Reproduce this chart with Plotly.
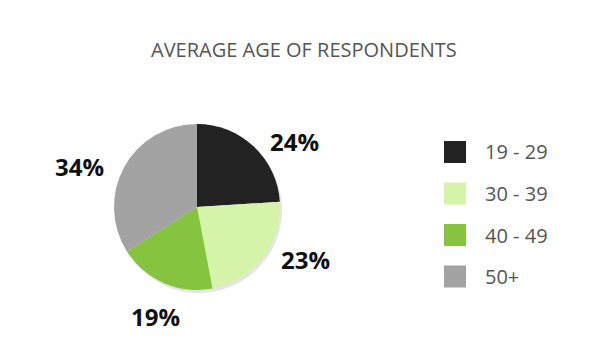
import math
import plotly.graph_objects as go

# ---- data ----
labels = ["19 - 29", "30 - 39", "40 - 49", "50+"]
values = [24, 23, 19, 34]
colors = ["#222222", "#d5f4aa", "#86c440", "#a3a3a3"]
title = "AVERAGE AGE OF RESPONDENTS"

W, H = 604, 364
OFF = 8  # page body margin


def px_x(X):
    return (X - OFF) / W


def px_y(Y):
    return 1 - (Y - OFF) / H


cx, cy, r = 197, 207, 83  # pie center / radius in window pixels

dom_x = [px_x(cx - r), px_x(cx + r)]
dom_y = [px_y(cy + r), px_y(cy - r)]

fig = go.Figure()
# subtle shadow
fig.add_trace(go.Pie(
    values=values, sort=False, direction="clockwise", rotation=0,
    marker=dict(colors=["rgba(0,0,0,0.10)"] * len(values), line=dict(width=0)),
    textinfo="none", hoverinfo="skip", showlegend=False,
    domain=dict(x=[dom_x[0] + 2 / W, dom_x[1] + 2 / W], y=[dom_y[0] - 3 / H, dom_y[1] - 3 / H]),
))
fig.add_trace(go.Pie(
    labels=labels, values=values, sort=False, direction="clockwise", rotation=0,
    marker=dict(colors=colors, line=dict(width=0)),
    textinfo="none", showlegend=False,
    domain=dict(x=dom_x, y=dom_y),
))

annotations = []
total = sum(values)
cum = 0
R = 104
for v in values:
    mid = (cum + v / 2) / total * 2 * math.pi
    cum += v
    s, c = math.sin(mid), math.cos(mid)
    X = cx + R * s
    Y = cy - R * c
    if abs(s) < 0.5:
        xa = "center"
        ya = "top" if c < 0 else "bottom"
        Y -= 4 if c < 0 else -4
    else:
        xa = "left" if s > 0 else "right"
        ya = "middle"
        Y += 10 if c > 0 else -11
    annotations.append(dict(
        x=px_x(X), y=px_y(Y), xref="paper", yref="paper",
        text=f"{round(v / total * 100)}%", showarrow=False,
        xanchor=xa, yanchor=ya,
        font=dict(family="Open Sans", size=24, color="#111111", weight="bold"),
    ))

# custom legend
shapes = []
leg_x0, leg_y0, leg_dy, sq = 444, 152, 41.5, 22
for i, (lab, col) in enumerate(zip(labels, colors)):
    yc = leg_y0 + i * leg_dy
    shapes.append(dict(
        type="rect", xref="paper", yref="paper",
        x0=px_x(leg_x0), x1=px_x(leg_x0 + sq),
        y0=px_y(yc + sq / 2), y1=px_y(yc - sq / 2),
        fillcolor=col, line=dict(width=0),
    ))
    annotations.append(dict(
        x=px_x(leg_x0 + 39), y=px_y(yc), xref="paper", yref="paper",
        text=lab, showarrow=False, xanchor="left", yanchor="middle",
        font=dict(family="Open Sans", size=20, color="#555555"),
    ))

annotations.append(dict(
    x=px_x(304), y=px_y(49), xref="paper", yref="paper", text=title,
    showarrow=False, xanchor="center", yanchor="middle",
    font=dict(family="Open Sans", size=20, color="#555555"),
))

fig.update_layout(
    width=W, height=H, margin=dict(l=0, r=0, t=0, b=0),
    paper_bgcolor="white", plot_bgcolor="white",
    annotations=annotations, shapes=shapes,
)

fig.write_html("out.html")
